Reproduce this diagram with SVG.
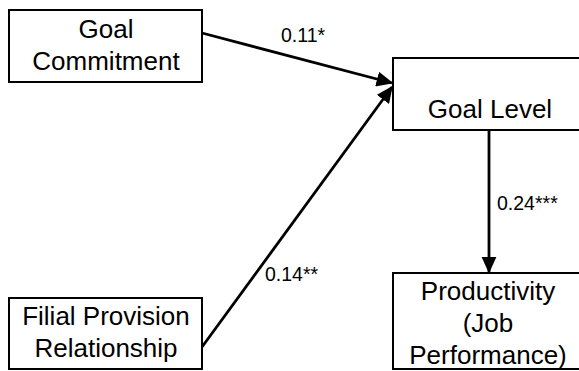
<svg xmlns="http://www.w3.org/2000/svg" width="579" height="371" viewBox="0 0 579 371">
<style>
.box{fill:#fff;stroke:#000;stroke-width:2}
.t{font-family:"Liberation Sans",Arial,sans-serif;font-size:26px;fill:#000;text-anchor:middle}
.l{font-family:"Liberation Sans",Arial,sans-serif;font-size:19.5px;fill:#000}
.c{stroke:#000;stroke-width:2.8;fill:none;marker-end:url(#ah)}
</style>
<defs>
<marker id="ah" markerWidth="6" markerHeight="5.4" refX="5.5" refY="2.7" orient="auto" markerUnits="strokeWidth">
<path d="M0,0 L6,2.7 L0,5.4 Z" fill="#000"/>
</marker>
</defs>
<rect width="579" height="371" fill="#fff"/>
<g id="goal-commitment">
<rect class="box" x="9" y="10" width="193" height="72"/>
<text class="t" x="106" y="38">Goal</text>
<text class="t" x="106" y="70">Commitment</text>
</g>
<g id="goal-level">
<rect class="box" x="393" y="58" width="200" height="72"/>
<text class="t" x="490" y="118">Goal Level</text>
</g>
<g id="productivity">
<rect class="box" x="393" y="273" width="200" height="96"/>
<text class="t" x="488" y="300">Productivity</text>
<text class="t" x="488" y="332">(Job</text>
<text class="t" x="488" y="364">Performance)</text>
</g>
<g id="filial">
<rect class="box" x="9" y="298" width="193" height="71"/>
<text class="t" x="106" y="325">Filial Provision</text>
<text class="t" x="106" y="357">Relationship</text>
</g>
<g id="connectors">
<line class="c" x1="202" y1="33" x2="392" y2="83"/>
<line class="c" x1="202" y1="347" x2="392" y2="87"/>
<line class="c" x1="489" y1="130" x2="489" y2="272"/>
<text class="l" x="281" y="42">0.11*</text>
<text class="l" x="265" y="281">0.14**</text>
<text class="l" x="497" y="210">0.24***</text>
</g>
</svg>
